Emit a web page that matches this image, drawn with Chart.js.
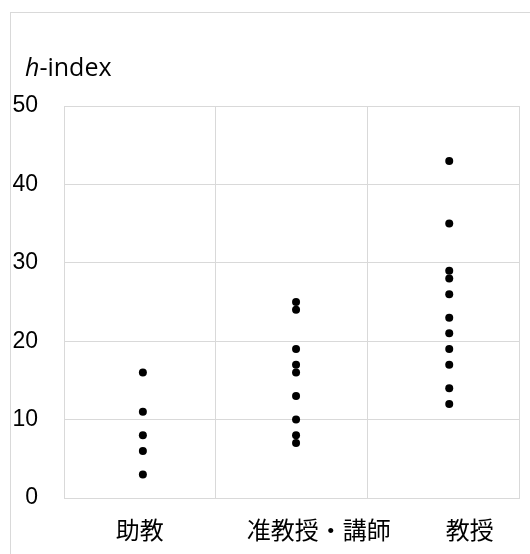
<!DOCTYPE html>
<html>
<head>
<meta charset="utf-8">
<script src="https://cdn.jsdelivr.net/npm/chart.js@4/dist/chart.umd.min.js"></script>
<style>
body{margin:0;background:#fff}
#wrap{position:relative;width:530px;height:554px;overflow:hidden}
#frame{position:absolute;left:10px;top:12px;width:600px;height:600px;border-left:1px solid #d9d9d9;border-top:1px solid #d9d9d9}
canvas{position:absolute;left:0;top:0}
</style>
</head>
<body>
<div id="wrap">
<div id="frame"></div>
<canvas id="chart" width="530" height="554"></canvas>
</div>
<script>
// groups along the x axis
const categories = ["助教", "准教授・講師", "教授"]
const groupX = [0.52, 1.53, 2.54]
const labelX = [0.5, 1.68, 2.675]
const gridX = [0, 1, 2, 3]

// h-index values per group
const assistant = [16, 11, 8, 6, 3]
const associate = [25, 24, 19, 17, 16, 13, 10, 8, 7]
const professor = [43, 35, 29, 28, 26, 23, 21, 19, 17, 14, 12]

const yTicks = [0, 10, 20, 30, 40, 50]

const groups = [assistant, associate, professor]
const gridColor = "#d9d9d9"

const datasets = groups.map((vals, i) => ({
  label: categories[i],
  data: vals.map(v => ({ x: groupX[i], y: v })),
  backgroundColor: "#000",
  borderColor: "#000",
  pointRadius: 4,
  pointHoverRadius: 4,
  borderWidth: 0
}))

const titlePlugin = {
  id: "hindex",
  afterDraw(chart) {
    const ctx = chart.ctx
    ctx.save()
    ctx.fillStyle = "#000"
    ctx.textBaseline = "alphabetic"
    ctx.font = 'italic 25px "Open Sans"'
    ctx.fillText("h", 25, 76)
    const w = ctx.measureText("h").width
    ctx.font = '25px "Open Sans"'
    ctx.fillText("-index", 25 + w, 76)
    ctx.restore()
  }
}

new Chart(document.getElementById("chart"), {
  type: "scatter",
  data: { datasets: datasets },
  options: {
    responsive: false,
    animation: false,
    events: [],
    layout: { padding: { left: 10, top: 106, right: 11, bottom: 10 } },
    plugins: { legend: { display: false }, tooltip: { enabled: false } },
    scales: {
      x: {
        type: "linear",
        position: "bottom",
        min: 0,
        max: 3,
        afterBuildTicks: s => { s.ticks = gridX.map(v => ({ value: v })) },
        afterFit: s => { s.height = 0 },
        ticks: { display: false },
        grid: { color: gridColor, drawTicks: false },
        border: { color: gridColor }
      },
      xl: {
        type: "linear",
        position: "bottom",
        min: 0,
        max: 3,
        afterBuildTicks: s => { s.ticks = labelX.map(v => ({ value: v })) },
        afterFit: s => { s.height = 46 },
        ticks: {
          autoSkip: false,
          maxRotation: 0,
          padding: 17,
          color: "#000",
          font: { family: '"Noto Sans CJK JP"', size: 24 },
          callback: (v, i) => categories[i]
        },
        grid: { display: false, drawTicks: false },
        border: { display: false }
      },
      y: {
        min: 0,
        max: 50,
        afterBuildTicks: s => { s.ticks = yTicks.map(v => ({ value: v })) },
        afterFit: s => { s.width = 54 },
        ticks: {
          padding: 26,
          color: "#000",
          font: { family: '"Liberation Sans"', size: 23 }
        },
        grid: { color: gridColor, drawTicks: false },
        border: { color: gridColor }
      }
    }
  },
  plugins: [titlePlugin]
})
</script>
</body>
</html>
